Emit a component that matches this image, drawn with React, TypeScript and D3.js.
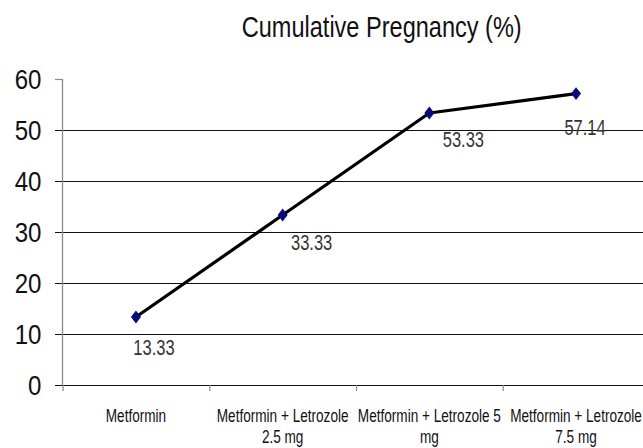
import React from "react";
import * as d3 from "d3";

const categories = [
  "Metformin",
  "Metformin + Letrozole\n2.5 mg",
  "Metformin + Letrozole 5\nmg",
  "Metformin + Letrozole\n7.5 mg",
];
const values = [13.33, 33.33, 53.33, 57.14];
const valueLabels = ["13.33", "33.33", "53.33", "57.14"];
const yTicks = [0, 10, 20, 30, 40, 50, 60];
const title = "Cumulative Pregnancy (%)";

const W = 643;
const H = 448;
const FONT = "'Liberation Sans', Arial, sans-serif";

// manual label placement (dx, dy from point)
const labelDx = [18, 29, 34, 9];
const labelDy = [38, 35, 34, 41];

function diamondPath(hw: number, hh: number) {
  const p = d3.path();
  p.moveTo(0, -hh);
  p.lineTo(hw, 0);
  p.lineTo(0, hh);
  p.lineTo(-hw, 0);
  p.closePath();
  return p.toString();
}

export default function App() {
  const x = d3.scaleBand<string>().domain(categories).range([62.6, 649.4]).padding(0);
  const y = d3.scaleLinear().domain([0, 60]).range([385, 79]);
  const cx = (c: string) => (x(c) ?? 0) + x.bandwidth() / 2;
  const line = d3
    .line<number>()
    .x((_, i) => cx(categories[i]))
    .y((d) => y(d));
  const diamond = diamondPath(5, 6.4);
  const x0 = 62.5;

  return (
    <svg
      width={W}
      height={H}
      style={{ position: "absolute", left: 0, top: 0, background: "#fff" }}
      fontFamily={FONT}
    >
      <rect x={0} y={0} width={W} height={H} fill="#fff" />
      <text
        transform={`translate(381.7,36.7) scale(0.785,1)`}
        textAnchor="middle"
        fontSize={30}
        fill="#111"
      >
        {title}
      </text>

      {/* gridlines */}
      {yTicks.filter((t) => t > 0 && t < 60).map((t) => (
        <line key={t} x1={55} x2={W} y1={y(t) + 0.5} y2={y(t) + 0.5} stroke="#111" strokeWidth={1} />
      ))}
      {/* y axis */}
      <line x1={x0} x2={x0} y1={y(60)} y2={y(0)} stroke="#8a8a8a" strokeWidth={1.3} />
      <line x1={55} x2={x0} y1={y(60) + 0.5} y2={y(60) + 0.5} stroke="#8a8a8a" strokeWidth={1.2} />
      {/* x axis */}
      <line x1={55} x2={W} y1={y(0) + 0.5} y2={y(0) + 0.5} stroke="#111" strokeWidth={1.2} />
      {categories.map((c) => (
        <line key={c} x1={(x(c) ?? 0) + 0.5} x2={(x(c) ?? 0) + 0.5} y1={y(0)} y2={y(0) + 6} stroke="#8a8a8a" strokeWidth={1.2} />
      ))}

      {yTicks.map((t) => (
        <text
          key={t}
          transform={`translate(41.5,${y(t) + 10}) scale(0.86,1)`}
          textAnchor="end"
          fontSize={28}
          fill="#111"
        >
          {t}
        </text>
      ))}

      {categories.map((c) => {
        const lines = c.split("\n");
        const mid = cx(c);
        return (
          <g key={c} transform={`translate(${mid},0) scale(0.735,1)`}>
            {lines.map((l, j) => (
              <text key={j} x={0} y={421.7 + j * 21.5} textAnchor="middle" fontSize={18.5} fill="#111">
                {l}
              </text>
            ))}
          </g>
        );
      })}

      <path d={line(values) ?? ""} fill="none" stroke="#000" strokeWidth={3.2} strokeLinejoin="round" />
      {values.map((v, i) => (
        <path key={i} d={diamond} transform={`translate(${cx(categories[i])},${y(v)})`} fill="#0a0a7a" />
      ))}
      {values.map((v, i) => (
        <text
          key={i}
          transform={`translate(${cx(categories[i]) + labelDx[i]},${y(v) + labelDy[i]}) scale(0.75,1)`}
          textAnchor="middle"
          fontSize={22}
          fill="#333"
        >
          {valueLabels[i]}
        </text>
      ))}
    </svg>
  );
}
